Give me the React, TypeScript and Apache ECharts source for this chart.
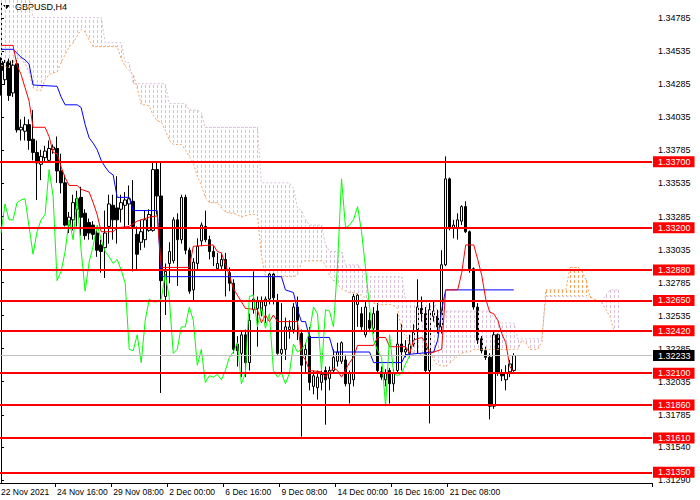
import { useEffect, useRef } from 'react';
import * as echarts from 'echarts';

const CHART_TITLE = 'GBPUSD,H4';

// H4 bars as in the terminal: [open, high, low, close]
const CANDLES: number[][] = [
  [1.3446, 1.3449, 1.3420, 1.3439], [1.3432, 1.3447, 1.3428, 1.3445], [1.3446, 1.3448, 1.3416, 1.3420],
  [1.3422, 1.3447, 1.3419, 1.3443], [1.3444, 1.3447, 1.3392, 1.3394], [1.3394, 1.3402, 1.3386, 1.3396],
  [1.3393, 1.3404, 1.3386, 1.3398], [1.3398, 1.3402, 1.3379, 1.3386], [1.3387, 1.3409, 1.3371, 1.3377],
  [1.3377, 1.3386, 1.3341, 1.3369], [1.3368, 1.3379, 1.3356, 1.3374], [1.3373, 1.3382, 1.3369, 1.3378],
  [1.3371, 1.3386, 1.3369, 1.3380], [1.3379, 1.3383, 1.3376, 1.3381], [1.3380, 1.3389, 1.3354, 1.3363],
  [1.3363, 1.3376, 1.3346, 1.3354], [1.3354, 1.3360, 1.3321, 1.3322], [1.3322, 1.3332, 1.3316, 1.3328],
  [1.3326, 1.3345, 1.3318, 1.3339], [1.3334, 1.3348, 1.3321, 1.3342], [1.3343, 1.3351, 1.3314, 1.3328],
  [1.3331, 1.3334, 1.3311, 1.3314], [1.3324, 1.3327, 1.3311, 1.3316], [1.3322, 1.3325, 1.3311, 1.3315],
  [1.3316, 1.3318, 1.3298, 1.3303], [1.3307, 1.3311, 1.3286, 1.3302], [1.3305, 1.3333, 1.3282, 1.3316],
  [1.3321, 1.3345, 1.3308, 1.3338], [1.3337, 1.3345, 1.3311, 1.3326], [1.3335, 1.3359, 1.3308, 1.3326],
  [1.3334, 1.3345, 1.3324, 1.3339], [1.3337, 1.3347, 1.3320, 1.3341], [1.3338, 1.3352, 1.3322, 1.3342],
  [1.3340, 1.3356, 1.3287, 1.3321], [1.3315, 1.3321, 1.3288, 1.3300], [1.3309, 1.3326, 1.3303, 1.3317],
  [1.3311, 1.3333, 1.3305, 1.3326], [1.3318, 1.3334, 1.3317, 1.3330], [1.3318, 1.3370, 1.3317, 1.3364],
  [1.3364, 1.3370, 1.3330, 1.3344], [1.3344, 1.3369, 1.3195, 1.3280], [1.3268, 1.3293, 1.3254, 1.3287],
  [1.3293, 1.3309, 1.3278, 1.3302], [1.3295, 1.3328, 1.3293, 1.3326], [1.3326, 1.3331, 1.3276, 1.3311],
  [1.3311, 1.3345, 1.3308, 1.3343], [1.3343, 1.3345, 1.3300, 1.3303], [1.3303, 1.3305, 1.3270, 1.3272],
  [1.3273, 1.3297, 1.3265, 1.3294], [1.3293, 1.3312, 1.3288, 1.3306], [1.3310, 1.3324, 1.3306, 1.3322],
  [1.3321, 1.3333, 1.3309, 1.3311], [1.3311, 1.3314, 1.3296, 1.3302], [1.3302, 1.3306, 1.3291, 1.3298],
  [1.3289, 1.3301, 1.3288, 1.3293], [1.3291, 1.3301, 1.3288, 1.3296], [1.3296, 1.3301, 1.3268, 1.3288],
  [1.3286, 1.3290, 1.3272, 1.3278], [1.3278, 1.3281, 1.3225, 1.3228], [1.3232, 1.3238, 1.3215, 1.3227],
  [1.3225, 1.3242, 1.3207, 1.3239], [1.3239, 1.3243, 1.3207, 1.3218], [1.3218, 1.3255, 1.3212, 1.3250],
  [1.3258, 1.3287, 1.3255, 1.3266], [1.3259, 1.3268, 1.3230, 1.3264], [1.3257, 1.3268, 1.3253, 1.3264],
  [1.3261, 1.3268, 1.3248, 1.3266], [1.3266, 1.3287, 1.3262, 1.3285], [1.3285, 1.3288, 1.3262, 1.3267],
  [1.3265, 1.3270, 1.3224, 1.3225], [1.3225, 1.3263, 1.3210, 1.3228], [1.3228, 1.3252, 1.3220, 1.3245],
  [1.3243, 1.3250, 1.3236, 1.3245], [1.3243, 1.3263, 1.3240, 1.3260], [1.3260, 1.3268, 1.3235, 1.3250],
  [1.3240, 1.3243, 1.3162, 1.3216], [1.3224, 1.3233, 1.3210, 1.3228], [1.3238, 1.3245, 1.3197, 1.3203],
  [1.3200, 1.3212, 1.3194, 1.3208], [1.3199, 1.3212, 1.3190, 1.3207], [1.3203, 1.3212, 1.3197, 1.3209],
  [1.3212, 1.3215, 1.3171, 1.3205], [1.3206, 1.3215, 1.3197, 1.3212], [1.3212, 1.3228, 1.3210, 1.3222],
  [1.3219, 1.3233, 1.3215, 1.3226], [1.3219, 1.3234, 1.3217, 1.3233], [1.3220, 1.3224, 1.3200, 1.3202],
  [1.3202, 1.3212, 1.3187, 1.3210], [1.3205, 1.3270, 1.3200, 1.3268], [1.3262, 1.3270, 1.3245, 1.3269],
  [1.3255, 1.3260, 1.3242, 1.3245], [1.3239, 1.3265, 1.3237, 1.3260], [1.3250, 1.3256, 1.3241, 1.3244],
  [1.3244, 1.3260, 1.3240, 1.3255], [1.3257, 1.3263, 1.3210, 1.3212], [1.3211, 1.3215, 1.3205, 1.3207],
  [1.3205, 1.3213, 1.3200, 1.3210], [1.3212, 1.3214, 1.3187, 1.3202], [1.3202, 1.3213, 1.3196, 1.3210],
  [1.3212, 1.3255, 1.3210, 1.3232], [1.3232, 1.3247, 1.3212, 1.3226], [1.3226, 1.3235, 1.3222, 1.3228],
  [1.3225, 1.3239, 1.3222, 1.3232], [1.3232, 1.3247, 1.3230, 1.3241], [1.3243, 1.3281, 1.3225, 1.3260],
  [1.3259, 1.3268, 1.3249, 1.3255], [1.3255, 1.3260, 1.3211, 1.3212], [1.3212, 1.3263, 1.3172, 1.3258],
  [1.3253, 1.3265, 1.3249, 1.3257], [1.3253, 1.3258, 1.3240, 1.3245], [1.3245, 1.3303, 1.3240, 1.3292],
  [1.3292, 1.3374, 1.3291, 1.3357], [1.3357, 1.3358, 1.3318, 1.3320], [1.3320, 1.3326, 1.3312, 1.3322],
  [1.3320, 1.3331, 1.3311, 1.3326], [1.3325, 1.3337, 1.3322, 1.3336], [1.3336, 1.3340, 1.3316, 1.3317],
  [1.3317, 1.3318, 1.3286, 1.3289], [1.3289, 1.3290, 1.3258, 1.3260], [1.3260, 1.3263, 1.3232, 1.3235],
  [1.3236, 1.3238, 1.3225, 1.3227], [1.3227, 1.3230, 1.3220, 1.3222], [1.3222, 1.3225, 1.3175, 1.3185],
  [1.3185, 1.3242, 1.3183, 1.3239], [1.3239, 1.3240, 1.3208, 1.3210], [1.3210, 1.3213, 1.3204, 1.3208],
  [1.3205, 1.3216, 1.3197, 1.3210], [1.3211, 1.3220, 1.3207, 1.3217], [1.3212, 1.3225, 1.3211, 1.32233],
];

// Ichimoku: [bar, price] corners for the step lines
const TENKAN: number[][] = [
  [0, 1.3458], [3, 1.3458], [4, 1.3443], [5, 1.3436], [6, 1.3426], [7, 1.3416], [8, 1.3396], [11, 1.3396],
  [12, 1.3389], [13, 1.3377], [14, 1.3376], [15, 1.3366], [16, 1.3358], [17, 1.3352], [19, 1.3352],
  [20, 1.3349], [22, 1.3347], [23, 1.3339], [24, 1.3330], [25, 1.3317], [28, 1.3317], [29, 1.3320],
  [32, 1.3321], [34, 1.3325], [37, 1.3328], [39, 1.3329], [40, 1.3290], [47, 1.3290], [48, 1.3306],
  [53, 1.3307], [54, 1.3302], [55, 1.3301], [57, 1.3284], [58, 1.3274], [60, 1.3264], [61, 1.3259],
  [64, 1.3258], [65, 1.3248], [66, 1.3254], [67, 1.3249], [68, 1.3254], [69, 1.3249], [74, 1.3249],
  [75, 1.3224], [76, 1.3220], [77, 1.3212], [80, 1.3211], [81, 1.3207], [83, 1.3214], [84, 1.3212],
  [85, 1.3207], [87, 1.3218], [88, 1.3222], [89, 1.3231], [93, 1.3231], [94, 1.3237], [96, 1.3237],
  [97, 1.3230], [101, 1.3230], [102, 1.3225], [103, 1.3235], [105, 1.3237], [106, 1.3233], [107, 1.3225],
  [110, 1.3228], [111, 1.3273], [114, 1.3273], [115, 1.3286], [116, 1.3307], [118, 1.3307], [119, 1.3296],
  [120, 1.3284], [121, 1.3266], [122, 1.3256], [123, 1.3255], [124, 1.3250], [125, 1.3240], [126, 1.3233],
  [127, 1.3215], [128, 1.3211],
];

const KIJUN: number[][] = [
  [0, 1.3455], [3, 1.3455], [4, 1.3452], [5, 1.3449], [6, 1.3447], [7, 1.3444], [8, 1.3428], [14, 1.3427],
  [15, 1.3419], [16, 1.3413], [19, 1.3413], [20, 1.3411], [21, 1.3398], [22, 1.3388], [23, 1.3384],
  [24, 1.3379], [25, 1.3371], [26, 1.3366], [27, 1.3362], [28, 1.3360], [29, 1.3343], [32, 1.3343],
  [33, 1.3333], [39, 1.3333], [40, 1.3283], [70, 1.3283], [71, 1.3273], [73, 1.3271], [74, 1.3258],
  [75, 1.3249], [76, 1.3249], [77, 1.3237], [82, 1.3237], [83, 1.3226], [92, 1.3226], [93, 1.3218],
  [100, 1.3218], [101, 1.3224], [108, 1.3226], [109, 1.3235], [110, 1.3258], [111, 1.3273], [128, 1.3273],
];

// Senkou spans, one value per bar (0 .. 154, i.e. 26 bars past the last candle)
const SENKOU_A: number[] = [
  1.3443, 1.3442, 1.3441, 1.3445, 1.3448, 1.3448, 1.3444, 1.3438, 1.3426, 1.3424,
  1.3424, 1.3432, 1.3436, 1.3437, 1.3438, 1.3445, 1.3451, 1.3457, 1.3460, 1.3465,
  1.3470, 1.3468, 1.3462, 1.3457, 1.3457, 1.3457, 1.3457, 1.3457, 1.3457, 1.3457,
  1.3448, 1.3442, 1.3439, 1.3436, 1.3426, 1.3413, 1.3413, 1.3412, 1.3405, 1.3401,
  1.3400, 1.3394, 1.3386, 1.3383, 1.3383, 1.3383, 1.3379, 1.3374, 1.3369, 1.3359,
  1.3352, 1.3343, 1.3339, 1.3339, 1.3339, 1.3335, 1.3332, 1.3331, 1.3331, 1.3330,
  1.3328, 1.3329, 1.3330, 1.3330, 1.3330, 1.3299, 1.3283, 1.3283, 1.3283, 1.3283,
  1.3283, 1.3283, 1.3283, 1.3283, 1.3284, 1.3294, 1.3295, 1.3295, 1.3295, 1.3295,
  1.3295, 1.3292, 1.3284, 1.3280, 1.3277, 1.3274, 1.3272, 1.3271, 1.3271, 1.3270,
  1.3269, 1.3267, 1.3265, 1.3263, 1.3262, 1.3262, 1.3262, 1.3262, 1.3261, 1.3259,
  1.3242, 1.3238, 1.3233, 1.3225, 1.3225, 1.3224, 1.3224, 1.3228, 1.3220, 1.3216,
  1.3216, 1.3215, 1.3218, 1.3220, 1.3223, 1.3225, 1.3226, 1.3226, 1.3228, 1.3228,
  1.3228, 1.3228, 1.3228, 1.3228, 1.3228, 1.3228, 1.3228, 1.3228, 1.3228, 1.3228,
  1.3235, 1.3233, 1.3228, 1.3228, 1.3228, 1.3234, 1.3273, 1.3273, 1.3273, 1.3273,
  1.3273, 1.3273, 1.3290, 1.3290, 1.3290, 1.3287, 1.3281, 1.3268, 1.3266, 1.3265,
  1.3263, 1.3258, 1.3253, 1.3242, 1.3241,
];

const SENKOU_B: number[] = [
  1.3500, 1.3500, 1.3500, 1.3500, 1.3500, 1.3500, 1.3500, 1.3500, 1.3479, 1.3479,
  1.3479, 1.3479, 1.3479, 1.3479, 1.3479, 1.3479, 1.3479, 1.3479, 1.3479, 1.3479,
  1.3479, 1.3479, 1.3479, 1.3479, 1.3479, 1.3479, 1.3460, 1.3460, 1.3460, 1.3460,
  1.3460, 1.3445, 1.3445, 1.3429, 1.3429, 1.3429, 1.3429, 1.3429, 1.3429, 1.3429,
  1.3429, 1.3429, 1.3414, 1.3414, 1.3414, 1.3414, 1.3414, 1.3409, 1.3409, 1.3409,
  1.3407, 1.3396, 1.3396, 1.3396, 1.3396, 1.3396, 1.3396, 1.3396, 1.3396, 1.3396,
  1.3396, 1.3396, 1.3396, 1.3396, 1.3396, 1.3354, 1.3354, 1.3354, 1.3354, 1.3354,
  1.3354, 1.3354, 1.3354, 1.3350, 1.3335, 1.3333, 1.3326, 1.3322, 1.3322, 1.3322,
  1.3322, 1.3307, 1.3302, 1.3302, 1.3302, 1.3302, 1.3292, 1.3292, 1.3292, 1.3292,
  1.3288, 1.3283, 1.3283, 1.3283, 1.3283, 1.3283, 1.3283, 1.3283, 1.3283, 1.3283,
  1.3283, 1.3265, 1.3265, 1.3265, 1.3265, 1.3265, 1.3265, 1.3265, 1.3265, 1.3257,
  1.3257, 1.3257, 1.3257, 1.3257, 1.3257, 1.3257, 1.3257, 1.3257, 1.3257, 1.3257,
  1.3257, 1.3257, 1.3257, 1.3252, 1.3250, 1.3248, 1.3248, 1.3248, 1.3248, 1.3236,
  1.3236, 1.3236, 1.3236, 1.3236, 1.3236, 1.3236, 1.3268, 1.3268, 1.3268, 1.3268,
  1.3268, 1.3268, 1.3268, 1.3268, 1.3268, 1.3268, 1.3268, 1.3265, 1.3265, 1.3265,
  1.3265, 1.3269, 1.3273, 1.3273, 1.3273,
];

const TIME_LABELS = [
  '22 Nov 2021', '24 Nov 16:00', '29 Nov 08:00', '2 Dec 00:00', '6 Dec 16:00',
  '9 Dec 08:00', '14 Dec 00:00', '16 Dec 16:00', '21 Dec 08:00',
];
const TIME_LABEL_BARS = [0, 14, 28, 42, 56, 70, 84, 98, 112];

const PRICE_TICKS = [
  '1.34785', '1.34535', '1.34285', '1.34035', '1.33785', '1.33535', '1.33285', '1.33035',
  '1.32785', '1.32535', '1.32285', '1.32035', '1.31785', '1.31540', '1.31290',
];

const LEVELS = [1.3370, 1.3320, 1.3288, 1.3265, 1.3242, 1.3210, 1.3186, 1.3161, 1.3135];
const CURRENT_PRICE = 1.32233;

const BAR_SLOTS = 163;
const CHIKOU_SHIFT = 26;
const PRICE_MIN = 1.31269;
const PRICE_MAX = 1.34923;

const FONT = '"Liberation Sans", Arial, sans-serif';
const UP_KUMO = '#f4a460';
const DOWN_KUMO = '#d8bfd8';
const DOT = [3, 2];

export default function App() {
  const chartRef = useRef<HTMLDivElement>(null);

  useEffect(() => {
    if (!chartRef.current) return;
    const chart = echarts.init(chartRef.current, undefined, { renderer: 'svg' });

    const slots = Array.from({ length: BAR_SLOTS }, (_, i) => String(i));
    const isLabelSlot = (index: number) => TIME_LABEL_BARS.includes(index);
    const tickValues = PRICE_TICKS.map(Number);

    const candleData = CANDLES.map(([o, h, l, c]) => [o, c, l, h]);
    const chikou = CANDLES.slice(CHIKOU_SHIFT).map((bar, i) => [i, bar[3]]);
    const kumo = SENKOU_A.map((a, i) => [i, a, SENKOU_B[i]]);

    const levelLines = LEVELS.map((v) => ({
      name: v.toFixed(5),
      yAxis: v,
      lineStyle: { color: '#ff0000', width: 2, type: 'solid' },
      label: { backgroundColor: '#ff0000', color: '#ffffff' },
    }));
    const priceLine = {
      name: CURRENT_PRICE.toFixed(5),
      yAxis: CURRENT_PRICE,
      lineStyle: { color: '#c0c0c0', width: 1, type: 'solid' },
      label: { backgroundColor: '#000000', color: '#ffffff' },
    };

    const option = {
      animation: false,
      backgroundColor: '#ffffff',
      grid: { left: -1, top: 0, width: 653, height: 483, outerBoundsMode: 'none' },
      xAxis: [
        {
          type: 'category',
          data: slots,
          boundaryGap: true,
          axisLine: { show: true, lineStyle: { color: '#000000', width: 1 } },
          axisTick: { show: true, length: 4, interval: isLabelSlot, lineStyle: { color: '#000000' } },
          axisLabel: {
            interval: isLabelSlot,
            formatter: (value: string) => TIME_LABELS[TIME_LABEL_BARS.indexOf(Number(value))] ?? '',
            align: 'left',
            color: '#000000',
            fontSize: 8.5,
            fontFamily: FONT,
            margin: 4,
          },
          splitLine: { show: false },
        },
        { type: 'value', min: -0.5, max: BAR_SLOTS - 0.5, show: false },
      ],
      yAxis: {
        type: 'value',
        position: 'right',
        min: PRICE_MIN,
        max: PRICE_MAX,
        scale: true,
        splitLine: { show: false },
        axisLine: { show: true, lineStyle: { color: '#000000', width: 1 } },
        axisTick: { show: true, length: 3, customValues: tickValues, lineStyle: { color: '#000000' } },
        axisLabel: {
          customValues: tickValues,
          formatter: (v: number) =>
            PRICE_TICKS.find((s) => Math.abs(Number(s) - v) < 1e-7) ?? v.toFixed(5),
          color: '#000000',
          fontSize: 9,
          fontFamily: FONT,
          margin: 6,
        },
      },
      graphic: [
        { type: 'polygon', shape: { points: [[3, 5], [10, 5], [6.5, 9]] }, style: { fill: '#000000' } },
        {
          type: 'text',
          x: 15,
          y: 2,
          style: { text: CHART_TITLE, fill: '#000000', fontSize: 9, fontFamily: FONT },
        },
      ],
      series: [
        {
          name: 'GBPUSD',
          type: 'candlestick',
          xAxisIndex: 0,
          z: 1,
          barWidth: 3,
          data: candleData,
          itemStyle: {
            color: '#ffffff',
            color0: '#000000',
            borderColor: '#000000',
            borderColor0: '#000000',
            borderWidth: 1,
          },
        },
        {
          name: 'Kumo',
          type: 'custom',
          xAxisIndex: 1,
          z: 2,
          clip: true,
          silent: true,
          data: kumo,
          encode: { x: 0, y: [1, 2] },
          renderItem: (_params: any, api: any) => {
            const i = api.value(0);
            const a = api.value(1);
            const b = api.value(2);
            const pa = api.coord([i, a]);
            const pb = api.coord([i, b]);
            const x = Math.round(pa[0]) + 0.5;
            const top = Math.round(Math.min(pa[1], pb[1]));
            const bottom = Math.round(Math.max(pa[1], pb[1]));
            return {
              type: 'line',
              shape: { x1: x, y1: top, x2: x, y2: bottom },
              style: {
                stroke: a > b ? UP_KUMO : DOWN_KUMO,
                lineWidth: 1,
                lineDash: DOT,
                lineDashOffset: ((top % 5) + 5) % 5,
              },
            };
          },
        },
        {
          name: 'Senkou Span A',
          type: 'line',
          xAxisIndex: 1,
          z: 2,
          showSymbol: false,
          silent: true,
          data: SENKOU_A.map((v, i) => [i, v]),
          lineStyle: { color: UP_KUMO, width: 1, type: [2, 2] },
        },
        {
          name: 'Senkou Span B',
          type: 'line',
          xAxisIndex: 1,
          z: 2,
          showSymbol: false,
          silent: true,
          data: SENKOU_B.map((v, i) => [i, v]),
          lineStyle: { color: DOWN_KUMO, width: 1, type: [2, 2] },
        },
        {
          name: 'Kijun-sen',
          type: 'line',
          xAxisIndex: 1,
          z: 3,
          showSymbol: false,
          silent: true,
          data: KIJUN,
          lineStyle: { color: '#0000ff', width: 1 },
        },
        {
          name: 'Tenkan-sen',
          type: 'line',
          xAxisIndex: 1,
          z: 3,
          showSymbol: false,
          silent: true,
          data: TENKAN,
          lineStyle: { color: '#ff0000', width: 1 },
        },
        {
          name: 'Chikou Span',
          type: 'line',
          xAxisIndex: 1,
          z: 3,
          showSymbol: false,
          silent: true,
          data: chikou,
          lineStyle: { color: '#00ff00', width: 1 },
          markLine: {
            silent: true,
            symbol: ['none', 'none'],
            precision: 5,
            label: {
              show: true,
              position: 'end',
              formatter: '{b}',
              fontSize: 9,
              fontFamily: FONT,
              lineHeight: 10,
              padding: [1, 4, 0, 5],
              distance: 1,
            },
            data: [priceLine, ...levelLines],
          },
        },
      ],
    };

    chart.setOption(option as any);
    return () => chart.dispose();
  }, []);

  return (
    <div
      ref={chartRef}
      style={{ position: 'absolute', left: 0, top: 0, width: 700, height: 500 }}
    />
  );
}
